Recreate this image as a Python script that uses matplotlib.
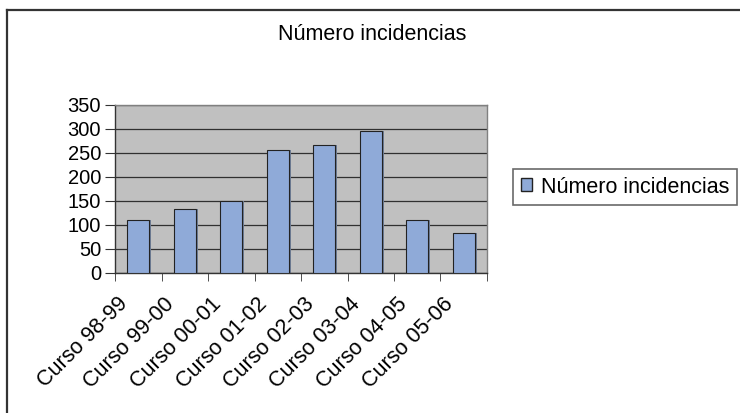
import numpy as np
import matplotlib
matplotlib.use('Agg')
import matplotlib.pyplot as plt
from matplotlib.lines import Line2D
from matplotlib.transforms import ScaledTranslation

plt.rcParams['font.family'] = ['Liberation Sans', 'DejaVu Sans']

# Data
cursos = ['Curso 98-99', 'Curso 99-00', 'Curso 00-01', 'Curso 01-02',
          'Curso 02-03', 'Curso 03-04', 'Curso 04-05', 'Curso 05-06']
incidencias = [111, 134, 151, 256, 267, 295, 111, 83]
serie = 'Número incidencias'

fig = plt.figure(figsize=(7.4, 4.13), dpi=100)
ax = fig.add_axes([115 / 740, 1 - 273 / 413, 372 / 740, 168 / 413])

x = np.arange(len(cursos))
ax.set_facecolor('#c0c0c0')
# shadow behind bars
ax.bar(x + 0.04, incidencias, width=0.47, color='#6f7d96', zorder=2)
ax.bar(x, incidencias, width=0.47, color='#8faad8', edgecolor='#222222',
       linewidth=0.8, zorder=3, label=serie)

ax.set_xlim(-0.5, len(cursos) - 0.5)
ax.set_ylim(0, 350)
ax.set_yticks(np.arange(0, 351, 50))
ax.yaxis.grid(True, color='#303030', linewidth=0.9, zorder=1)
ax.set_axisbelow(True)

ax.set_xticks(x)
ax.set_xticklabels(cursos, rotation=45, ha='right', rotation_mode='anchor')
ax.set_xticks(np.arange(-0.5, len(cursos)), minor=True)
ax.tick_params(axis='x', which='major', length=0, pad=14, labelsize=15.5)
ax.tick_params(axis='x', which='minor', length=6, direction='out', color='#333333')
ax.tick_params(axis='y', length=7, direction='out', color='#333333', labelsize=14.5, pad=3)

# Excel places the rotated labels a bit to the left of the category centre
shift = ScaledTranslation(-21 / 100, -1 / 100, fig.dpi_scale_trans)
for lab in ax.get_xticklabels():
    lab.set_transform(lab.get_transform() + shift)

for side in ['top', 'right']:
    ax.spines[side].set_color('#808080')
    ax.spines[side].set_linewidth(1)
for side in ['left', 'bottom']:
    ax.spines[side].set_color('#333333')
    ax.spines[side].set_linewidth(1)

fig.text(372 / 740, 1 - 35 / 413, serie, ha='center', va='center', fontsize=15.5)

leg = fig.legend(loc='center left', bbox_to_anchor=(513 / 740, 1 - 187 / 413),
                 fontsize=15.5, frameon=True, fancybox=False, edgecolor='#444444',
                 handlelength=0.55, handleheight=0.55, handletextpad=0.4,
                 borderpad=0.35, borderaxespad=0)
leg.get_frame().set_linewidth(1.2)
for h in leg.legend_handles:
    h.set_edgecolor('#222222')
    h.set_linewidth(1)

# outer chart frame (left and top edges visible)
fig.add_artist(Line2D([7 / 740, 7 / 740], [0, 1 - 10 / 413], color='#333333',
                      linewidth=1.6, transform=fig.transFigure))
fig.add_artist(Line2D([7 / 740, 1], [1 - 10 / 413, 1 - 10 / 413], color='#333333',
                      linewidth=1.6, transform=fig.transFigure))

fig.savefig('out.png', dpi=100)
